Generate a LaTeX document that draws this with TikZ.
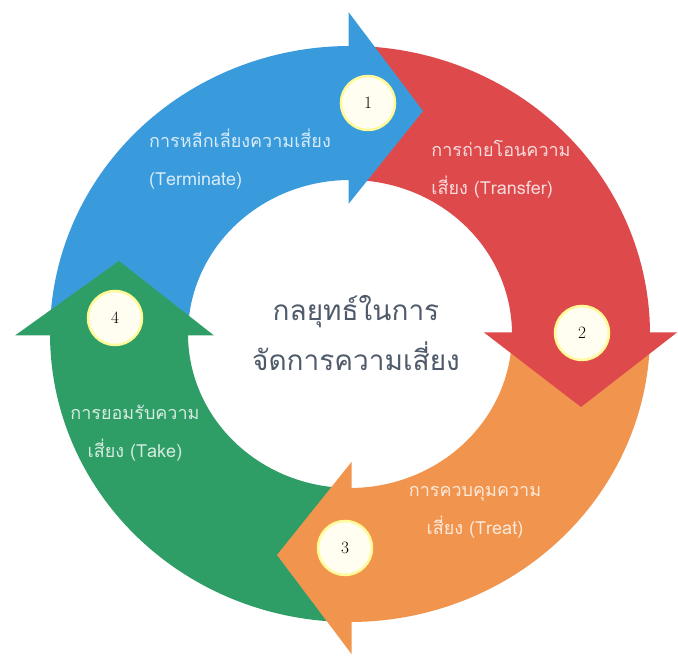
\documentclass[tikz,border=0pt]{standalone}
\usepackage{fontspec}
\newfontfamily\thaifont[Script=Thai]{Loma}

\definecolor{ringblue}{HTML}{3A9BDC}
\definecolor{ringred}{HTML}{DE4A4C}
\definecolor{ringorange}{HTML}{F0944E}
\definecolor{ringgreen}{HTML}{2E9E66}
\definecolor{centregray}{HTML}{4F5A6A}

\begin{document}
\begin{tikzpicture}[x=1pt,y=1pt,
        numdot/.style={circle,fill=yellow!6,draw=yellow!40,line width=2.5pt,minimum size=54pt,inner sep=0pt,font=\LARGE},
        steptext/.style={text=white,text opacity=0.8,font=\thaifont\fontsize{18}{38}\selectfont}]
    \useasboundingbox (0,0) rectangle (678,658); % same size as the reference
    \begin{scope}[shift={(350,324)}] % centre of the ring
        % ring segments, outer radius 300 x 288, inner 162 x 154
        \fill[ringblue] (180:300 and 288) arc[start angle=180,end angle=89,x radius=300,y radius=288]
        -- (89:162 and 154) arc[start angle=89,end angle=180,x radius=162,y radius=154] -- cycle;
        \fill[ringred] (90:300 and 288) arc[start angle=90,end angle=-1,x radius=300,y radius=288]
        -- (-1:162 and 154) arc[start angle=-1,end angle=90,x radius=162,y radius=154] -- cycle;
        \fill[ringorange] (0:300 and 288) arc[start angle=0,end angle=-91,x radius=300,y radius=288]
        -- (-91:162 and 154) arc[start angle=-91,end angle=0,x radius=162,y radius=154] -- cycle;
        \fill[ringgreen] (-90:300 and 288) arc[start angle=-90,end angle=-181,x radius=300,y radius=288]
        -- (-181:162 and 154) arc[start angle=-181,end angle=-90,x radius=162,y radius=154] -- cycle;
        % arrow heads drawn over the start of the next segment
        \fill[ringblue] (-1.5,322) -- (73,223) -- (-1.5,130) -- cycle; % top
        \fill[ringred] (327,1.5) -- (231,-73) -- (134,1.5) -- cycle; % right
        \fill[ringorange] (1.5,-320) -- (-73,-221) -- (1.5,-128) -- cycle; % bottom
        \fill[ringgreen] (-335,-1.5) -- (-231,73) -- (-136,-1.5) -- cycle; % left
        % numbered dots
        \node[numdot] (n1) at (18,231) {1};
        \node[numdot] (n2) at (232,1) {2};
        \node[numdot] (n3) at (-5,-214) {3};
        \node[numdot] (n4) at (-235,16) {4};
        % step labels
        \node[steptext,align=left] (terminate) at (-110,175) {การหลีกเลี่ยงความเสี่ยง\\(Terminate)};
        \node[steptext,align=left] (transfer) at (151,165) {การถ่ายโอนความ\\เสี่ยง (Transfer)};
        \node[steptext,align=center] (treat) at (125,-178) {การควบคุมความ\\เสี่ยง (Treat)};
        \node[steptext,align=center] (take) at (-215,-99) {การยอมรับความ\\เสี่ยง (Take)};
        % centre title
        \node[text=centregray,align=center,font=\thaifont\fontsize{28}{50}\selectfont] (title) at (6,1) {กลยุทธ์ในการ\\จัดการความเสี่ยง};
    \end{scope}
\end{tikzpicture}
\end{document}
